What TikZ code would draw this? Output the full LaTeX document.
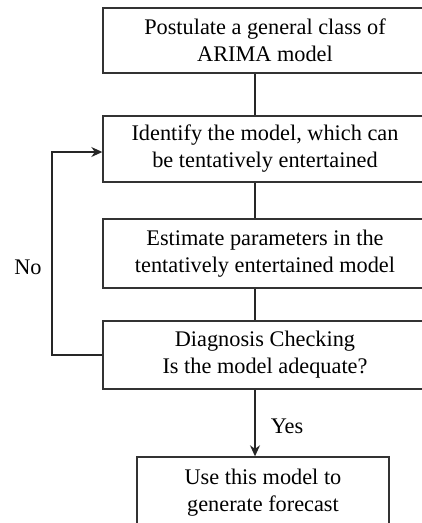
\documentclass[tikz,border=0pt]{standalone}
\usepackage{fontspec}
\setmainfont{Liberation Serif}
\usetikzlibrary{arrows.meta}
\begin{document}
\begin{tikzpicture}[x=1pt,y=-1pt,
  stepbox/.style={draw=black!80,line width=1.4pt,rectangle,align=center,
    inner sep=0pt,font=\fontsize{22.3}{27}\selectfont},
  flow/.style={draw=black!85,line width=1.3pt},
  tip/.style={-{Stealth[length=11pt,width=10pt]}},
  label/.style={inner sep=0pt,font=\fontsize{22.3}{27}\selectfont}]
  % page frame: the wide boxes run past the right edge, the last one past the bottom
  \clip (0,0) rectangle (422,523);
  \fill[white] (0,0) rectangle (422,523);

  \node[stepbox,minimum width=324pt,minimum height=65pt] (b1) at (265,40.5)
    {Postulate a general class of\\ARIMA model};
  \node[stepbox,minimum width=324pt,minimum height=66pt] (b2) at (265,149)
    {Identify the model, which can\\be tentatively entertained};
  \node[stepbox,minimum width=324pt,minimum height=69pt] (b3) at (265,253.5)
    {Estimate parameters in the\\tentatively entertained model};
  \node[stepbox,minimum width=324pt,minimum height=68pt] (b4) at (265,355)
    {Diagnosis Checking\\Is the model adequate?};
  \node[stepbox,minimum width=252pt,minimum height=72pt] (b5) at (263,493)
    {Use this model to\\generate forecast};

  \coordinate (spine) at (255,0);
  \coordinate (loopx) at (52,0);

  \draw[flow] (b1.south -| spine) -- (b2.north -| spine);
  \draw[flow] (b2.south -| spine) -- (b3.north -| spine);
  \draw[flow] (b3.south -| spine) -- (b4.north -| spine);
  \draw[flow,tip] (b4.south -| spine) -- (b5.north -| spine);

  \coordinate (back) at ([yshift=-3pt]b2.west);
  \draw[flow,tip]
    (b4.west) -- (b4.west -| loopx) -- (back -| loopx) -- (back);

  \node[label] (no) at (28,267) {No};
  \node[label] (yes) at (287,426) {Yes};
\end{tikzpicture}
\end{document}
